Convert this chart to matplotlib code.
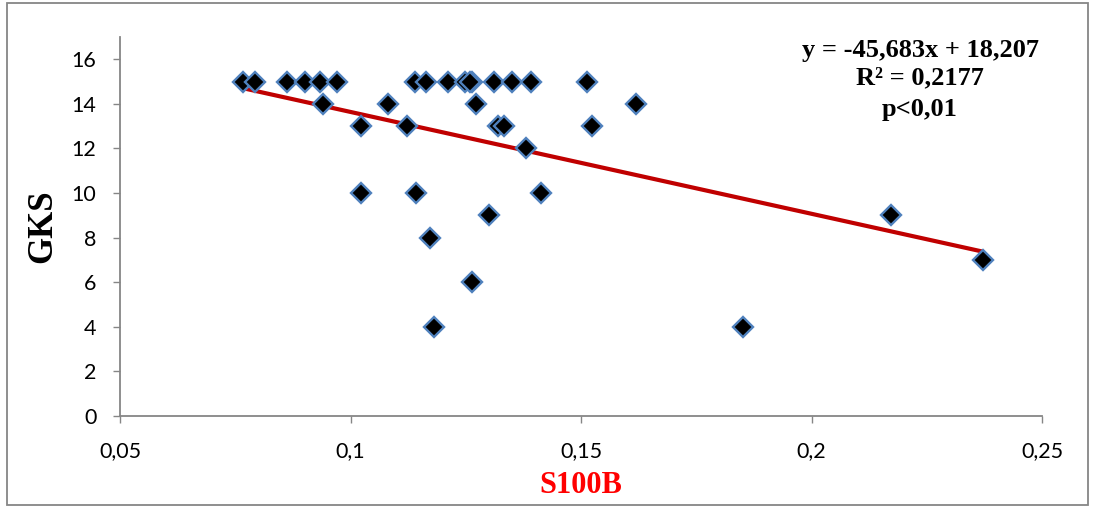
import matplotlib
matplotlib.use("Agg")
import matplotlib.pyplot as plt
from matplotlib.patches import Rectangle
import numpy as np

# S100B concentration vs Glasgow coma score (GKS)
s100b = [0.0767, 0.0793, 0.0862, 0.0901, 0.0934, 0.0970, 0.1140, 0.1163,
         0.1212, 0.1248, 0.1263, 0.1312, 0.1351, 0.1392, 0.1512, 0.1260,
         0.0941, 0.1082, 0.1272, 0.1619,
         0.1022, 0.1122, 0.1321, 0.1332, 0.1523,
         0.1381,
         0.1022, 0.1141, 0.1413,
         0.1301, 0.2172,
         0.1172,
         0.2373,
         0.1263,
         0.1182, 0.1852]
gks = [15, 15, 15, 15, 15, 15, 15, 15,
       15, 15, 15, 15, 15, 15, 15, 15,
       14, 14, 14, 14,
       13, 13, 13, 13, 13,
       12,
       10, 10, 10,
       9, 9,
       8,
       7,
       6,
       4, 4]

# Linear trend reported in the annotation
slope = -45.683
intercept = 18.207
eq_lines = ["y = -45,683x + 18,207", "R² = 0,2177", "p<0,01"]

x_ticks = [0.05, 0.1, 0.15, 0.2, 0.25]
x_tick_labels = ["0,05", "0,1", "0,15", "0,2", "0,25"]
y_ticks = [0, 2, 4, 6, 8, 10, 12, 14, 16]

W, H = 1093, 508
fig = plt.figure(figsize=(W / 100, H / 100), dpi=100)
ax = fig.add_axes([120 / W, 1 - 416 / H, (1042 - 120) / W, (416 - 37) / H])

grey = "#868686"
ax.set_xlim(0.05, 0.25)
ax.set_ylim(0, 17)
ax.set_xticks(x_ticks)
ax.set_xticklabels(x_tick_labels)
ax.set_yticks(y_ticks)

for side in ("top", "right"):
    ax.spines[side].set_visible(False)
for side in ("left", "bottom"):
    ax.spines[side].set_color(grey)
    ax.spines[side].set_linewidth(1.3)

ax.tick_params(axis="both", direction="out", length=5, width=1.0, color=grey,
               labelsize=15.5, labelcolor="black")
ax.tick_params(axis="y", pad=12)
ax.tick_params(axis="x", pad=13)
for lab in ax.get_xticklabels() + ax.get_yticklabels():
    lab.set_family("Lato")

# trend line across the observed S100B range
xs = np.array([min(s100b), max(s100b)])
ax.plot(xs, slope * xs + intercept, color="#C00000", lw=3, zorder=2,
        solid_capstyle="butt")

ax.plot(s100b, gks, linestyle="none", marker="D", markersize=10.5,
        markerfacecolor="black", markeredgecolor="#4F81BD",
        markeredgewidth=1.7, zorder=3, clip_on=False)

serif = "Liberation Serif"
ax.set_xlabel("S100B", fontsize=22, fontweight="bold", color="#FF0000",
              family=serif, labelpad=7)
ax.set_ylabel("GKS", fontsize=25, fontweight="bold", color="black",
              family=serif, labelpad=9)

for text, py in zip(eq_lines, [51, 78, 109]):
    fig.text(920 / W, 1 - py / H, text, ha="center", va="center",
             fontsize=19, fontweight="bold", family=serif)

fig.patches.append(Rectangle((7 / W, 3 / H), (1088 - 7) / W, (505 - 3) / H,
                             transform=fig.transFigure, fill=False,
                             edgecolor=grey, linewidth=1.3))

fig.savefig("out.png", dpi=100)
